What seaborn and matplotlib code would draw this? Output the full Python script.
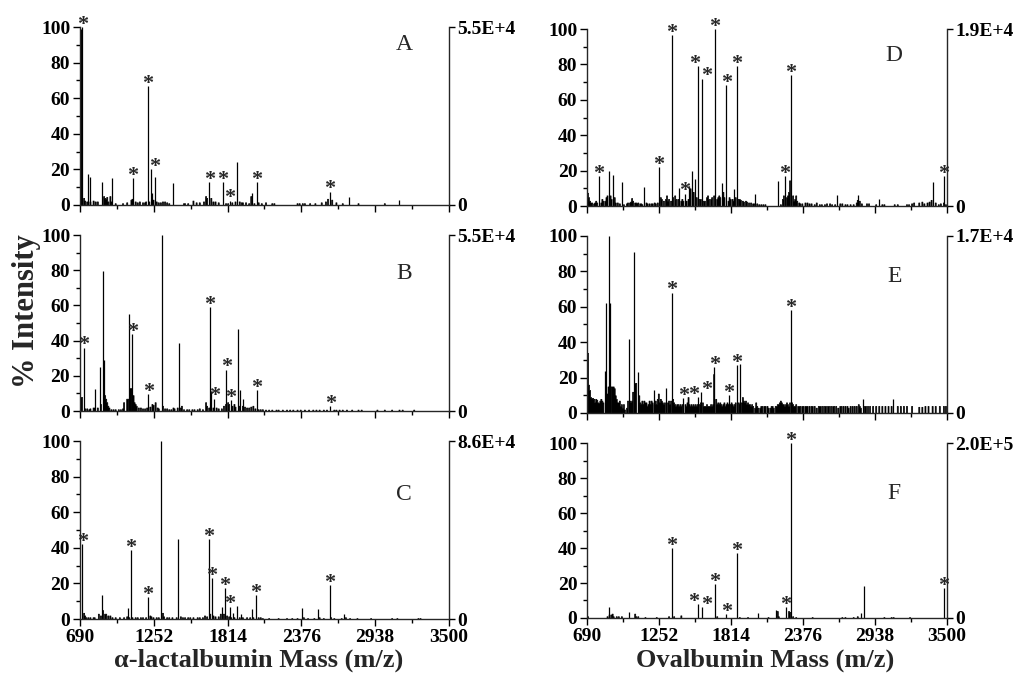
import matplotlib
matplotlib.use("Agg")
import matplotlib.pyplot as plt
from matplotlib.ticker import FixedLocator, MultipleLocator
import seaborn as sns

# ---------------------------------------------------------------------------
# Spectra: resolved peaks (m/z, % intensity, asterisk flag) and noise floor
# ---------------------------------------------------------------------------
A_mz = [696, 708, 753, 766, 857, 936, 1093, 1208, 1228, 1236, 1261, 1396, 1675,
        1776, 1832, 1888, 1997, 2035, 2594, 2738, 3119]
A_int = [99, 100, 17.5, 16, 13, 15, 15, 67, 20, 7, 16, 12.5, 13,
         13, 2.5, 24, 7, 13, 7.5, 4.3, 2.8]
A_star = [0, 1, 0, 0, 0, 0, 1, 1, 1, 0, 0, 0, 1,
          1, 1, 0, 0, 1, 1, 0, 0]
A_noise_mz = [700, 715, 730, 745, 770, 790, 805, 820, 868, 876, 884, 893, 901, 916,
              925, 955, 1015, 1050, 1075, 1083, 1110, 1125, 1145, 1165, 1180, 1190,
              1216, 1244, 1270, 1285, 1300, 1320, 1335, 1350, 1365, 1480, 1490, 1510,
              1550, 1575, 1600, 1630, 1649, 1658, 1690, 1700, 1720, 1740, 1795, 1815,
              1850, 1870, 1900, 1915, 1930, 1950, 1975, 1990, 2015, 2050, 2070, 2100,
              2150, 2170, 2340, 2360, 2380, 2400, 2440, 2480, 2530, 2560, 2575, 2610,
              2640, 2690, 2810, 3010]
A_noise_int = [5, 4, 2.5, 2, 2, 2.5, 2, 2, 5, 4, 3.5, 4.5, 2, 5,
               2, 1, 1, 1.5, 3, 3.5, 2, 1.5, 2, 1.5, 1.5, 2,
               2, 3, 2, 1.5, 1.5, 2, 2, 1.5, 1, 1, 1, 1,
               2.5, 1.5, 1.5, 2, 5, 4, 4, 2, 2, 1.5, 1, 1,
               1.5, 2, 2, 1.5, 1.5, 1.5, 1, 5, 1, 1.5, 1, 1.5,
               1, 1, 1, 1, 1, 1, 1, 1, 1.5, 2, 3.5, 3,
               1.5, 1, 1, 1]

B_mz = [718, 808, 842, 863, 873, 1063, 1088, 1210, 1314, 1446, 1680, 1690, 1713,
        1804, 1837, 1890, 1912, 1933, 2035, 2596]
B_int = [36, 12.5, 25, 79.5, 29, 55, 43.5, 9.5, 100, 38.5, 59, 11.5, 7,
         23.5, 6, 46.5, 12, 7, 12, 3]
B_star = [1, 0, 0, 0, 0, 0, 1, 1, 0, 0, 1, 0, 1,
          1, 1, 0, 0, 0, 1, 1]
B_noise_mz = [695, 703, 730, 740, 755, 770, 790, 800, 820, 850, 880, 888, 896, 904,
              912, 925, 940, 960, 980, 1000, 1015, 1025, 1043, 1052, 1072, 1080, 1096,
              1104, 1112, 1120, 1135, 1150, 1165, 1180, 1195, 1222, 1235, 1248, 1260,
              1275, 1290, 1322, 1335, 1350, 1365, 1380, 1395, 1410, 1430, 1455, 1465,
              1480, 1500, 1520, 1540, 1560, 1580, 1600, 1620, 1645, 1655, 1667, 1700,
              1725, 1745, 1765, 1785, 1795, 1815, 1825, 1850, 1860, 1870, 1900, 1925,
              1945, 1960, 1975, 1990, 2010, 2020, 2050, 2065, 2080, 2100, 2130, 2150,
              2180, 2200, 2230, 2260, 2290, 2310, 2340, 2370, 2400, 2430, 2460, 2490,
              2510, 2540, 2570, 2620, 2640, 2660, 2690, 2720, 2760, 2810, 2830, 2950,
              3010, 3060, 3120, 3140, 3230]
B_noise_int = [8, 8, 1.5, 1.5, 1, 1.5, 2, 2, 2, 4, 9, 7, 5, 3,
               2, 1, 1, 1, 1, 1, 1.5, 5, 7, 7, 13, 13, 9,
               5, 4, 3, 2, 2, 1.5, 1.5, 2, 2.5, 4, 3.5, 5,
               2, 1.5, 3, 1.5, 1.5, 1, 1, 2, 1.5, 2, 2, 3,
               1, 1, 1, 1, 1, 1, 1.5, 1, 5, 3, 2, 2,
               2, 1.5, 1.5, 3, 4, 5, 4, 3, 4, 2.5, 3, 3,
               2.5, 2, 2, 2.5, 3, 1.5, 1, 1, 1, 0.8, 0.8, 0.8,
               0.8, 0.8, 0.8, 0.8, 0.8, 0.8, 0.8, 0.8, 0.8, 0.8, 0.8, 0.8,
               0.8, 0.8, 0.8, 0.8, 0.8, 0.8, 0.8, 0.8, 0.8, 0.8, 0.8, 0.8,
               0.8, 0.8, 0.8, 0.8, 0.8]

C_mz = [708, 857, 1053, 1078, 1205, 1307, 1439, 1672, 1693, 1768, 1794, 1830, 1852,
        1885, 1916, 1997, 2030, 2378, 2500, 2591, 2698]
C_int = [42, 13.5, 6, 38.5, 12.5, 100, 45, 45, 23, 7, 17.5, 7, 3.5,
         7.5, 3, 5.5, 13.5, 6, 5.5, 19, 3]
C_star = [1, 0, 0, 1, 1, 0, 0, 1, 1, 0, 1, 1, 0,
          0, 0, 0, 1, 0, 0, 1, 0]
C_noise_mz = [716, 725, 735, 750, 770, 790, 800, 832, 845, 866, 876, 890, 905, 920,
              935, 960, 990, 1020, 1045, 1062, 1090, 1110, 1130, 1150, 1170, 1190,
              1222, 1232, 1250, 1270, 1290, 1318, 1330, 1350, 1370, 1390, 1420, 1455,
              1470, 1490, 1510, 1530, 1550, 1580, 1600, 1620, 1640, 1655, 1682, 1705,
              1720, 1740, 1755, 1780, 1808, 1820, 1840, 1865, 1900, 1930, 1960, 1980,
              2010, 2045, 2060, 2080, 2130, 2200, 2260, 2300, 2340, 2390, 2420, 2470,
              2510, 2540, 2600, 2620, 2680, 2710, 2740, 2800, 2900, 3060, 3100, 3260,
              3280]
C_noise_int = [3.5, 2, 1, 1, 1, 1, 1, 3, 2, 5, 3, 3, 2, 2,
               1, 1, 1, 1, 1.5, 1, 1, 1, 1, 1, 1, 1,
               2, 1.5, 1, 1, 1, 3.5, 1.5, 1, 1, 1, 1, 1.5,
               1, 1, 1, 1, 1, 1, 1, 1, 2, 1.5, 3, 2,
               1.5, 1.5, 3, 3, 2, 1.5, 1, 1, 1, 1, 1, 1,
               1, 1, 1, 0.5, 0.5, 0.5, 0.5, 0.5, 0.5, 1, 0.5, 0.5,
               1, 0.5, 1, 0.5, 0.5, 1, 0.5, 0.5, 0.5, 0.5, 0.5, 0.5,
               0.5]

D_mz = [782, 863, 893, 960, 1138, 1252, 1351, 1410, 1453, 1489, 1510, 1532, 1555,
        1588, 1689, 1740, 1778, 1837, 1857, 2002, 2180, 2236, 2282, 2643, 2808, 2969,
        3393, 3477]
D_int = [17, 20, 17.5, 13.5, 10.5, 22, 96.5, 10, 7, 11.5, 20, 15, 79,
         72, 100, 13, 68.5, 9.5, 79, 7, 14, 17, 74, 6, 6, 4,
         13.5, 17]
D_star = [1, 0, 0, 0, 0, 1, 1, 0, 1, 0, 0, 0, 1,
          1, 1, 0, 1, 0, 1, 0, 0, 1, 1, 0, 0, 0,
          0, 1]
D_noise_mz = [694, 702, 710, 720, 730, 740, 750, 760, 770, 795, 805, 815, 830, 840,
              850, 872, 880, 903, 912, 925, 940, 975, 1000, 1010, 1020, 1030, 1040,
              1050, 1060, 1070, 1080, 1090, 1100, 1110, 1120, 1150, 1160, 1175, 1190,
              1200, 1215, 1225, 1240, 1262, 1272, 1285, 1300, 1310, 1320, 1330, 1342,
              1362, 1372, 1385, 1395, 1420, 1430, 1440, 1465, 1475, 1498, 1520, 1541,
              1565, 1575, 1598, 1610, 1620, 1630, 1642, 1652, 1662, 1675, 1700, 1710,
              1720, 1730, 1750, 1760, 1790, 1800, 1810, 1820, 1828, 1847, 1868, 1878,
              1890, 1900, 1910, 1925, 1935, 1950, 1965, 1980, 1990, 2015, 2030, 2045,
              2060, 2080, 2200, 2215, 2225, 2245, 2255, 2265, 2274, 2292, 2300, 2310,
              2320, 2330, 2340, 2355, 2370, 2390, 2405, 2420, 2440, 2460, 2480, 2500,
              2520, 2540, 2560, 2580, 2600, 2620, 2660, 2680, 2700, 2720, 2740, 2770,
              2790, 2800, 2818, 2830, 2870, 2890, 2940, 2990, 3010, 3090, 3110, 3180,
              3200, 3220, 3240, 3280, 3300, 3320, 3340, 3360, 3375, 3410, 3430, 3450,
              3470, 3490]
D_noise_int = [7.5, 5, 3, 2, 2, 1.5, 2, 3, 2, 2, 4, 3, 3, 5,
               6, 6, 4, 5, 2, 2, 1.5, 1, 1.5, 2, 2, 2.5, 4.5,
               3, 2, 2, 1.5, 2, 1.5, 1.5, 1, 2, 1.5, 1.5, 1.5,
               1.5, 2, 1.5, 2, 5, 4, 3, 4, 6, 3, 4, 3,
               5, 6, 4, 4, 3, 4, 3, 3, 4, 10, 8, 5,
               4, 4, 3, 3, 5, 6, 4, 4, 5, 6, 4, 5,
               6, 5, 8, 5, 3, 5, 4, 4, 3, 5, 4, 4,
               3.5, 3, 2.5, 3, 2.5, 2, 2, 1.5, 1.5, 1.5, 1, 1,
               1, 1, 1, 4, 6, 5, 6, 8, 14.5, 6, 3, 4,
               6, 3, 2, 1.5, 1.5, 2, 2, 1.5, 1.5, 1, 2, 1,
               1, 1, 1.5, 1.5, 1, 1, 1.5, 1.5, 1, 1, 1, 1,
               2, 3.5, 3, 1.5, 1.5, 1.5, 1, 1, 1, 1, 1, 1,
               1, 1.5, 2, 2, 2.5, 1.5, 2, 2.5, 3.5, 2, 1, 1.5,
               2, 1]

E_mz = [830, 837, 860, 867, 1015, 1056, 1087, 1209, 1308, 1354, 1443, 1555, 1580,
        1684, 1799, 1860, 1887, 2282, 2841, 3080]
E_int = [23.5, 62, 100, 62, 42, 91, 23, 13, 14, 68, 8.5, 9, 12,
         26, 10, 27, 27.5, 58, 8, 7.7]
E_star = [0, 0, 0, 0, 0, 0, 0, 0, 0, 1, 1, 1, 1,
          1, 1, 1, 0, 1, 0, 0]
E_noise_mz = [690, 698, 706, 714, 722, 730, 738, 746, 754, 762, 770, 778, 786, 794,
              802, 810, 818, 845, 852, 875, 883, 891, 899, 907, 915, 923, 931, 939,
              947, 955, 963, 971, 979, 995, 1003, 1023, 1031, 1039, 1047, 1064, 1072,
              1095, 1103, 1111, 1119, 1127, 1135, 1143, 1151, 1159, 1167, 1175, 1183,
              1191, 1199, 1217, 1225, 1233, 1241, 1249, 1257, 1265, 1273, 1281, 1289,
              1297, 1316, 1324, 1332, 1340, 1362, 1370, 1378, 1386, 1394, 1402, 1410,
              1418, 1426, 1434, 1451, 1459, 1467, 1475, 1483, 1491, 1499, 1507, 1515,
              1523, 1531, 1539, 1547, 1563, 1571, 1590, 1598, 1606, 1614, 1622, 1630,
              1638, 1646, 1654, 1662, 1670, 1678, 1692, 1700, 1708, 1716, 1724, 1732,
              1740, 1748, 1756, 1764, 1772, 1780, 1788, 1808, 1816, 1824, 1832, 1840,
              1848, 1868, 1876, 1896, 1904, 1912, 1920, 1928, 1936, 1944, 1952, 1960,
              1968, 1976, 1984, 2000, 2008, 2016, 2024, 2040, 2048, 2056, 2072, 2080,
              2096, 2104, 2120, 2128, 2136, 2144, 2160, 2168, 2176, 2184, 2192, 2200,
              2208, 2216, 2224, 2232, 2240, 2248, 2256, 2264, 2272, 2290, 2298, 2306,
              2314, 2322, 2338, 2346, 2354, 2370, 2378, 2394, 2402, 2410, 2426, 2442,
              2450, 2466, 2482, 2498, 2506, 2514, 2530, 2546, 2554, 2570, 2578, 2594,
              2610, 2618, 2634, 2650, 2666, 2674, 2690, 2706, 2722, 2730, 2746, 2762,
              2778, 2794, 2810, 2818, 2826, 2858, 2866, 2882, 2898, 2922, 2946, 2970,
              2994, 3018, 3042, 3066, 3114, 3138, 3162, 3186, 3226, 3282, 3306, 3330,
              3354, 3380, 3410, 3440, 3470, 3490]
E_noise_int = [17, 17, 16, 13, 9, 8.5, 8.5, 8, 6, 8, 7.5, 6, 5.5, 7,
               8, 7, 6, 11, 15, 15, 15, 15, 14, 10, 8, 6, 6, 7,
               4, 5, 3, 5, 2, 3, 7, 7, 6, 7, 12, 17, 17,
               10, 6, 5, 7, 5, 7, 6, 6, 4, 5, 7, 5,
               7, 6, 5, 7, 5, 8, 11, 6, 8, 7, 6, 5,
               6, 6, 7, 5, 7, 8, 6, 5, 4, 5, 5, 4,
               5, 4, 5, 5, 4, 6, 9, 5, 4, 5, 4, 5,
               4, 5, 4, 5, 5, 6, 6, 4, 4, 4, 5, 4,
               4, 4, 5, 4, 5, 22, 8, 5, 6, 5, 6, 5,
               4, 5, 6, 4, 5, 6, 5, 5, 6, 5, 4, 5,
               6, 6, 5, 6, 9, 7, 6, 7, 5, 6, 5, 5,
               4, 5, 4, 3, 6, 4, 3, 3, 4, 4, 4, 4,
               4, 3, 3, 4, 4, 3, 4, 4, 5, 5, 6, 7,
               6, 5, 5, 4, 5, 6, 5, 4, 6, 6, 5, 4,
               4, 5, 4, 4, 4, 4, 4, 4, 4, 4, 4, 4,
               4, 4, 3, 4, 4, 4, 4, 4, 4, 4, 4, 4,
               4, 4, 4, 3, 4, 4, 4, 4, 4, 3, 4, 4,
               4, 4, 5, 4, 3, 4, 4, 4, 4, 4, 4, 4,
               4, 4, 4, 4, 4, 4, 4, 4, 4, 3.5, 3.5, 4,
               4, 4, 4, 4, 4, 4]

F_mz = [858, 1016, 1351, 1555, 1588, 1689, 1778, 1857, 2022, 2167, 2244, 2282,
        2826, 2852, 3477]
F_int = [6.5, 3.5, 40, 8, 6, 19.5, 2.3, 37, 3, 4.5, 6, 100,
         3, 18, 17]
F_star = [0, 0, 1, 1, 1, 1, 1, 1, 0, 0, 1, 1,
          0, 0, 1]
F_noise_mz = [692, 850, 866, 875, 885, 898, 915, 935, 955, 1060, 1070, 1090, 1140,
              1230, 1330, 1367, 1425, 1700, 1875, 1940, 2105, 2176, 2186, 2266, 2274,
              2298, 2318, 2450, 2680, 2705, 2770, 2800, 3010, 3060, 3080, 3210]
F_noise_int = [1, 1, 2, 2, 2.5, 1, 1, 1, 1, 2.5, 1, 1, 0.5,
               0.5, 1, 1, 1.5, 1, 0.5, 0.5, 0.5, 4, 1, 4, 3.5,
               1, 0.5, 0.5, 0.5, 0.5, 0.5, 1, 0.5, 0.5, 0.5, 0.5]

panel_letters = ["A", "B", "C", "D", "E", "F"]
full_scale = ["5.5E+4", "5.5E+4", "8.6E+4", "1.9E+4", "1.7E+4", "2.0E+5"]
mz_ticks = [690, 1252, 1814, 2376, 2938, 3500]
xlabels = ["\u03b1-lactalbumin Mass (m/z)", "Ovalbumin Mass (m/z)"]
ylabel = "% Intensity"

MZ_RANGE = (690, 3500)

# sideways nudges (points) for asterisks of neighbouring peaks
star_nudge = {("A", 1228): 3, ("D", 1555): -2, ("D", 1588): 3,
              ("E", 1555): -3, ("E", 1580): 4, ("F", 1555): -3, ("F", 1588): 3}

# ---------------------------------------------------------------------------
sns.set_theme(style="ticks")
plt.rcParams["font.family"] = ["Liberation Serif", "DejaVu Serif"]
plt.rcParams["font.weight"] = "bold"
plt.rcParams["axes.linewidth"] = 1.0
plt.rcParams["xtick.color"] = "black"
plt.rcParams["ytick.color"] = "black"

fig = plt.figure(figsize=(10.25, 6.84), dpi=100)

# axes rectangles [left, bottom, width, height] in figure fractions
rects = [
    [0.0780, 0.7003, 0.3600, 0.2602],
    [0.0780, 0.3991, 0.3600, 0.2573],
    [0.0780, 0.0950, 0.3600, 0.2602],
    [0.5727, 0.6988, 0.3512, 0.2588],
    [0.5727, 0.3962, 0.3512, 0.2588],
    [0.5727, 0.0965, 0.3512, 0.2558],
]
letter_pos = [(0.878, 0.90), (0.878, 0.78), (0.878, 0.70),
              (0.853, 0.853), (0.853, 0.77), (0.853, 0.71)]

spectra = [
    (A_mz, A_int, A_star, A_noise_mz, A_noise_int),
    (B_mz, B_int, B_star, B_noise_mz, B_noise_int),
    (C_mz, C_int, C_star, C_noise_mz, C_noise_int),
    (D_mz, D_int, D_star, D_noise_mz, D_noise_int),
    (E_mz, E_int, E_star, E_noise_mz, E_noise_int),
    (F_mz, F_int, F_star, F_noise_mz, F_noise_int),
]

for i, (mz, inten, star, nmz, nint) in enumerate(spectra):
    ax = fig.add_axes(rects[i])
    letter = panel_letters[i]
    bottom_row = i in (2, 5)

    # dense noise floor as a weighted histogram (one bin ~ one pixel)
    sns.histplot(x=nmz, weights=nint, binwidth=8, binrange=MZ_RANGE,
                 element="step", fill=True, color="black", alpha=1.0,
                 linewidth=0.5, edgecolor="black", ax=ax)
    # resolved peaks as sticks
    ax.vlines(mz, 0, inten, color="black", linewidth=0.9)

    for m, h, s in zip(mz, inten, star):
        if s:
            dx = star_nudge.get((letter, m), 0)
            ax.annotate("*", xy=(m, h), xytext=(dx, -2), textcoords="offset points",
                        ha="center", va="baseline", fontsize=16, fontweight="bold",
                        annotation_clip=False)

    ax.set_xlim(*MZ_RANGE)
    ax.set_ylim(0, 100)
    ax.set_xlabel("")
    ax.set_ylabel("")
    ax.xaxis.set_major_locator(FixedLocator(mz_ticks))
    ax.xaxis.set_minor_locator(FixedLocator([971, 1533, 2095, 2657, 3219]))
    ax.yaxis.set_major_locator(MultipleLocator(20))
    ax.yaxis.set_minor_locator(MultipleLocator(10))
    ax.tick_params(which="major", direction="out", length=5, width=1.0,
                   labelsize=14, pad=2)
    ax.tick_params(which="minor", direction="out", length=3, width=1.0)
    if not bottom_row:
        ax.tick_params(axis="x", labelbottom=False)
    ax.spines["top"].set_visible(False)
    ax.spines["right"].set_visible(False)

    ax.text(*letter_pos[i], letter, transform=ax.transAxes,
            fontsize=17, fontweight="normal", ha="center", va="center")

    # absolute-intensity scale on the right
    ax2 = ax.twinx()
    ax2.set_ylim(0, 1)
    ax2.set_yticks([0, 1])
    ax2.set_yticklabels(["0", full_scale[i]])
    ax2.tick_params(axis="y", direction="out", length=4, width=1.0,
                    labelsize=14, pad=2)
    for side in ("top", "left", "bottom"):
        ax2.spines[side].set_visible(False)
    ax2.spines["right"].set_linewidth(1.0)

fig.text(0.0255, 0.545, ylabel, rotation=90, fontsize=22, fontweight="bold",
         ha="center", va="center")
fig.text(0.252, 0.034, xlabels[0], fontsize=19, fontweight="bold",
         ha="center", va="center")
fig.text(0.746, 0.034, xlabels[1], fontsize=19, fontweight="bold",
         ha="center", va="center")

fig.savefig("out.png", dpi=100, facecolor="white")
